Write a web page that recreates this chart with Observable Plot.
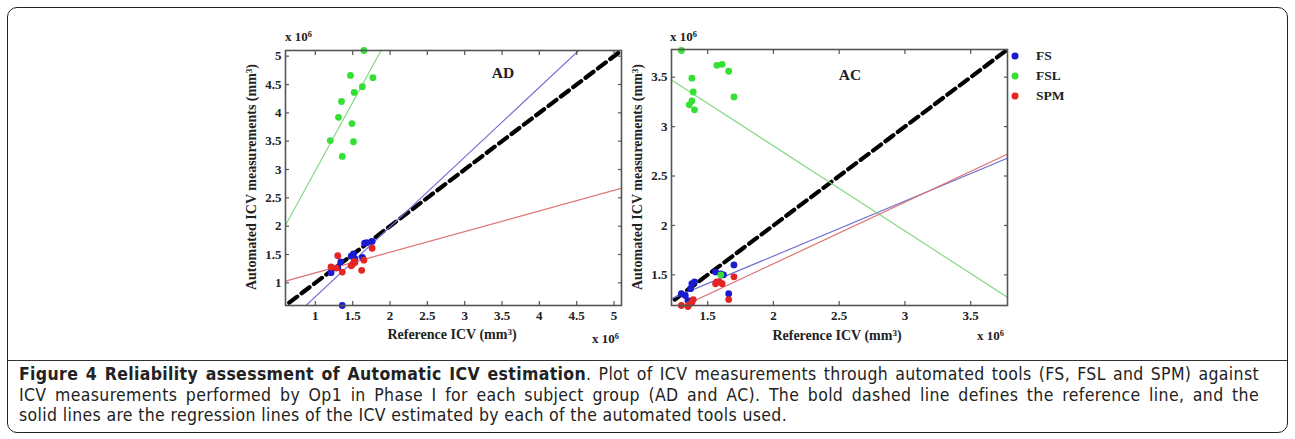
<!DOCTYPE html>
<html>
<head>
<meta charset="utf-8">
<script src="https://cdn.jsdelivr.net/npm/d3@7"></script>
<script src="https://cdn.jsdelivr.net/npm/@observablehq/plot@0.6"></script>
<style>
html,body{margin:0;padding:0;background:#fff;}
#fig{position:relative;width:1295px;height:439px;overflow:hidden;background:#fff;}
.box{position:absolute;left:7px;top:7px;width:1281px;height:426px;border:1.6px solid #222;border-radius:10px;box-sizing:border-box;}
.sep{position:absolute;left:8px;width:1279px;top:360px;height:0;border-top:1.3px solid #333;}
.pl{position:absolute;}
.lbl{position:absolute;transform:translate(-50%,-50%);white-space:nowrap;font-family:"Liberation Serif","DejaVu Serif",serif;font-weight:bold;color:#222;}
.sx{position:absolute;white-space:nowrap;font-family:"Liberation Serif",serif;font-weight:bold;font-size:13px;color:#222;}
sup{font-size:65%;position:relative;top:-0.45em;vertical-align:baseline;}
.leg{position:absolute;font-family:"Liberation Serif",serif;font-weight:bold;font-size:13.5px;color:#222;transform:translateY(-50%);}
.mk{position:absolute;width:7px;height:7px;border-radius:50%;transform:translate(-50%,-50%);}
.cap{position:absolute;left:19px;top:364px;width:1240px;font-family:"DejaVu Sans Condensed","DejaVu Sans",sans-serif;font-stretch:condensed;font-size:17.5px;letter-spacing:0.35px;line-height:20.5px;color:#222;}
.cap div{white-space:nowrap;}
.j{text-align:justify;text-align-last:justify;}
</style>
</head>
<body>
<div id="fig">
  <div class="box"></div>
  <div class="sep"></div>
</div>
<script>
// ---------- data (values in 10^6 mm^3) ----------
const tools = ["FS", "FSL", "SPM"];
const dotColors = ["#1a1ad2", "#33e033", "#e52424"];
const lineColors = ["#7272d6", "#84d884", "#de7272"];

// AD group: [reference ICV, automated ICV]
const adFS  = [[1.21,1.18],[1.30,1.27],[1.34,1.37],[1.48,1.47],[1.51,1.51],[1.53,1.42],[1.63,1.45],[1.66,1.70],[1.69,1.71],[1.76,1.73],[1.36,0.60]];
const adFSL = [[1.65,5.10],[1.47,4.66],[1.77,4.62],[1.63,4.46],[1.52,4.36],[1.35,4.20],[1.31,3.92],[1.49,3.81],[1.20,3.51],[1.51,3.49],[1.36,3.23]];
const adSPM = [[1.21,1.28],[1.28,1.26],[1.30,1.48],[1.36,1.19],[1.48,1.30],[1.50,1.33],[1.52,1.38],[1.53,1.36],[1.62,1.22],[1.65,1.40],[1.76,1.61]];
const adSlopes = [1.232, 2.41, 0.364];
const adIntercepts = [-0.477, 0.57, 0.813];

// AC group
const acFS  = [[1.30,1.31],[1.33,1.29],[1.35,1.24],[1.37,1.36],[1.38,1.41],[1.40,1.43],[1.56,1.53],[1.60,1.51],[1.62,1.50],[1.66,1.31],[1.70,1.60]];
const acFSL = [[1.30,3.77],[1.38,3.49],[1.57,3.62],[1.61,3.63],[1.66,3.56],[1.39,3.35],[1.38,3.26],[1.36,3.22],[1.40,3.17],[1.70,3.30],[1.60,1.50]];
const acSPM = [[1.30,1.19],[1.35,1.18],[1.36,1.20],[1.38,1.22],[1.39,1.25],[1.56,1.41],[1.57,1.43],[1.59,1.43],[1.61,1.41],[1.66,1.25],[1.70,1.48]];
const acSlopes = [0.556, -0.861, 0.623];
const acIntercepts = [0.578, 4.527, 0.366];

// axes
const adDomain = [0.6, 5.1];
const adTicks = [1, 1.5, 2, 2.5, 3, 3.5, 4, 4.5, 5];
const acXDomain = [1.225, 3.78];
const acYDomain = [1.19, 3.78];
const acTicks = [1.5, 2, 2.5, 3, 3.5];
const refStart = [0.65, 1.25];

const groupTitles = ["AD", "AC"];
const xLabel = "Reference ICV (mm<sup>3</sup>)";
const yLabel = "Automated ICV measurements (mm<sup>3</sup>)";

// ---------- drawing ----------
const fig = document.getElementById("fig");

function panel({xDomain, yDomain, xTicks, yTicks, series, slopes, intercepts, ref0, width, height, m}) {
  const fmt = d => String(d);
  const marks = [];
  // reference line y = x
  marks.push(Plot.line([[ref0, ref0], [xDomain[1], xDomain[1]]], {
    stroke: "#000", strokeWidth: 4.2, strokeDasharray: "10,5.5", clip: true
  }));
  // regression lines
  tools.forEach((t, i) => {
    const pts = xDomain.map(x => [x, slopes[i] * x + intercepts[i]]);
    marks.push(Plot.line(pts, {stroke: lineColors[i], strokeWidth: 1.2, clip: true}));
  });
  // points
  series.forEach((s, i) => {
    marks.push(Plot.dot(s, {x: d => d[0], y: d => d[1], r: 3.4, fill: dotColors[i], stroke: "none"}));
  });
  // frame and axes
  marks.push(Plot.frame({stroke: "#555", strokeWidth: 1.6}));
  const tk = {stroke: "#555", strokeWidth: 1.2, tickSize: -4, tickFormat: () => "", fill: "none", label: null};
  marks.push(Plot.axisX({anchor: "bottom", ticks: xTicks, ...tk}));
  marks.push(Plot.axisX({anchor: "top", ticks: xTicks, ...tk}));
  marks.push(Plot.axisY({anchor: "left", ticks: yTicks, ...tk}));
  marks.push(Plot.axisY({anchor: "right", ticks: yTicks, ...tk}));
  marks.push(Plot.axisX({anchor: "bottom", ticks: xTicks, tickSize: 0, tickPadding: 5, tickFormat: fmt, label: null, fill: "#222"}));
  marks.push(Plot.axisY({anchor: "left", ticks: yTicks, tickSize: 0, tickPadding: 4, tickFormat: fmt, label: null, fill: "#222"}));
  return Plot.plot({
    width, height,
    marginLeft: m[0], marginRight: m[1], marginTop: m[2], marginBottom: m[3],
    x: {domain: xDomain},
    y: {domain: yDomain},
    style: {background: "transparent", fontFamily: "'Liberation Serif', serif", fontSize: "13px", fontWeight: "bold", overflow: "visible"},
    marks
  });
}

function place(node, left, top) {
  const d = document.createElement("div");
  d.className = "pl";
  d.style.left = left + "px";
  d.style.top = top + "px";
  d.appendChild(node);
  fig.appendChild(d);
}

place(panel({xDomain: adDomain, yDomain: adDomain, xTicks: adTicks, yTicks: adTicks,
  series: [adFS, adFSL, adSPM], slopes: adSlopes, intercepts: adIntercepts, ref0: refStart[0],
  width: 430, height: 330, m: [85, 9, 30, 45]}), 200, 20);

place(panel({xDomain: acXDomain, yDomain: acYDomain, xTicks: acTicks, yTicks: acTicks,
  series: [acFS, acFSL, acSPM], slopes: acSlopes, intercepts: acIntercepts, ref0: refStart[1],
  width: 400, height: 330, m: [41, 23, 29, 45]}), 630, 20);

function html(cls, text, x, y, extra) {
  const d = document.createElement("div");
  d.className = cls;
  d.innerHTML = text;
  d.style.left = x + "px";
  d.style.top = y + "px";
  if (extra) Object.assign(d.style, extra);
  fig.appendChild(d);
  return d;
}

// axis labels
html("lbl", xLabel, 452, 335, {fontSize: "14px"});
html("lbl", xLabel, 837, 336, {fontSize: "14px"});
html("lbl", yLabel, 252, 177, {fontSize: "14px", transform: "translate(-50%,-50%) rotate(-90deg)"});
html("lbl", yLabel, 638, 177, {fontSize: "14px", transform: "translate(-50%,-50%) rotate(-90deg)"});
// exponent labels
html("sx", "x 10<sup>6</sup>", 285, 29);
html("sx", "x 10<sup>6</sup>", 670, 29);
html("sx", "x 10<sup>6</sup>", 592, 331);
html("sx", "x 10<sup>6</sup>", 977, 328);
// group titles
html("lbl", groupTitles[0], 503, 73, {fontSize: "15.5px"});
html("lbl", groupTitles[1], 850, 75, {fontSize: "15.5px"});

// legend
tools.forEach((t, i) => {
  const y = 56 + i * 20;
  const m = document.createElement("div");
  m.className = "mk";
  m.style.left = "1015px"; m.style.top = y + "px"; m.style.background = dotColors[i];
  fig.appendChild(m);
  html("leg", t, 1036, y);
});

// caption
const cap = document.createElement("div");
cap.className = "cap";
cap.innerHTML =
  '<div class="j"><b>Figure 4 Reliability assessment of Automatic ICV estimation</b>. Plot of ICV measurements through automated tools (FS, FSL and SPM) against</div>' +
  '<div class="j">ICV measurements performed by Op1 in Phase I for each subject group (AD and AC). The bold dashed line defines the reference line, and the</div>' +
  '<div>solid lines are the regression lines of the ICV estimated by each of the automated tools used.</div>';
fig.appendChild(cap);
</script>
</body>
</html>
